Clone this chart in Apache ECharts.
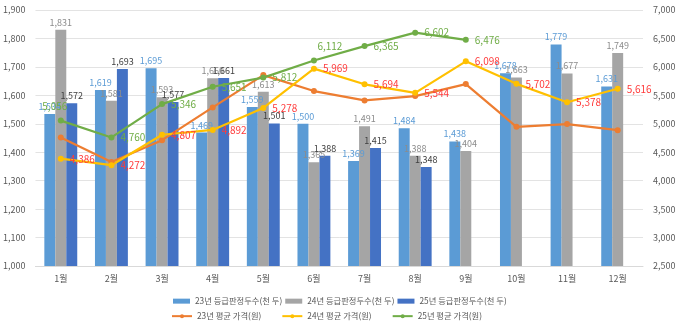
<!DOCTYPE html>
<html><head><meta charset="utf-8">
<script src="https://cdn.jsdelivr.net/npm/echarts@6/dist/echarts.min.js"></script>
<style>html,body{margin:0;padding:0;background:#fff}#c{width:680px;height:325px}</style>
</head><body><div id="c"></div>
<script>
const months = ['1월','2월','3월','4월','5월','6월','7월','8월','9월','10월','11월','12월'];
const names = ['23년 등급판정두수(천 두)','24년 등급판정두수(천 두)','25년 등급판정두수(천 두)','23년 평균 가격(원)','24년 평균 가격(원)','25년 평균 가격(원)'];
const heads23 = [1534,1619,1695,1469,1559,1500,1369,1484,1438,1678,1779,1631];
const heads24 = [1831,1581,1593,1660,1613,1365,1491,1388,1404,1663,1677,1749];
const heads25 = [1572,1693,1577,1661,1501,1388,1415,1348,null,null,null,null];
const price23 = [4760,4330,4712,5288,5856,5575,5411,5487,5698,4946,4994,4888];
const price24 = [4386,4272,4807,4892,5278,5969,5694,5544,6098,5702,5378,5616];
const price25 = [5056,4760,5346,5651,5812,6112,6365,6602,6476,null,null,null];
const leftTicks = {min:1000,max:1900,interval:100};
const rightTicks = {min:2500,max:7000,interval:500};

const FONT = '"Noto Sans CJK KR","Noto Sans",sans-serif';
const chart = echarts.init(document.getElementById('c'));
const fmt = p => p.value==null?'':p.value.toLocaleString('en-US');
const barLabel = c => ({show:true,position:'top',distance:3,color:c,fontSize:9,fontFamily:FONT,formatter:fmt});
function bar(i,data,color,lc){
  return {name:names[i],type:'bar',data:data,itemStyle:{color:color},barGap:'0%',barCategoryGap:'35%',label:barLabel(lc)};
}
function line(i,data,color,lbl,special){
  const d = data.map((v,k)=> (special && special[k]) ? {value:v,label:special[k]} : v);
  return {name:names[i],type:'line',yAxisIndex:1,data:d,symbol:'circle',symbolSize:6,
    lineStyle:{color:color,width:2.2},itemStyle:{color:color},z:5,
    label:lbl?{show:true,position:'right',distance:6,color:lbl,fontSize:10,fontFamily:FONT,formatter:fmt}:{show:false}};
}
chart.setOption({
  animation:false,
  textStyle:{fontFamily:FONT},
  grid:{left:35,right:37,top:10,bottom:59},
  legend:[
    {data:names.slice(0,3),left:168,top:292,itemWidth:17,itemHeight:5,itemGap:3,icon:'rect',
     textStyle:{fontSize:8.3,color:'#595959',fontFamily:FONT}},
    {data:names.slice(3),left:166,top:307,itemWidth:20,itemHeight:5,itemGap:20,
     textStyle:{fontSize:8.3,color:'#595959',fontFamily:FONT}}
  ],
  xAxis:{type:'category',data:months,axisTick:{show:false},
    axisLine:{lineStyle:{color:'#d9d9d9'}},
    axisLabel:{fontSize:9,color:'#595959',margin:8}},
  yAxis:[
    {type:'value',min:leftTicks.min,max:leftTicks.max,interval:leftTicks.interval,
     axisLabel:{fontSize:9,color:'#595959',margin:10,formatter:v=>v.toLocaleString('en-US')},
     splitLine:{lineStyle:{color:'#e3e3e3'}}},
    {type:'value',min:rightTicks.min,max:rightTicks.max,interval:rightTicks.interval,
     axisLabel:{fontSize:9,color:'#595959',margin:10,formatter:v=>v.toLocaleString('en-US')},
     splitLine:{show:false}}
  ],
  series:[
    bar(0,heads23,'#5B9BD5','#5B9BD5'),
    bar(1,heads24,'#A5A5A5','#8c8c8c'),
    bar(2,heads25,'#4472C4','#404040'),
    line(3,price23,'#ED7D31',null),
    line(4,price24,'#FFC000','#FF3B3B'),
    line(5,price25,'#70AD47','#70AD47',{0:{position:'top',offset:[-6,0]},5:{position:'top',offset:[16,0]}})
  ]
});
</script></body></html>
